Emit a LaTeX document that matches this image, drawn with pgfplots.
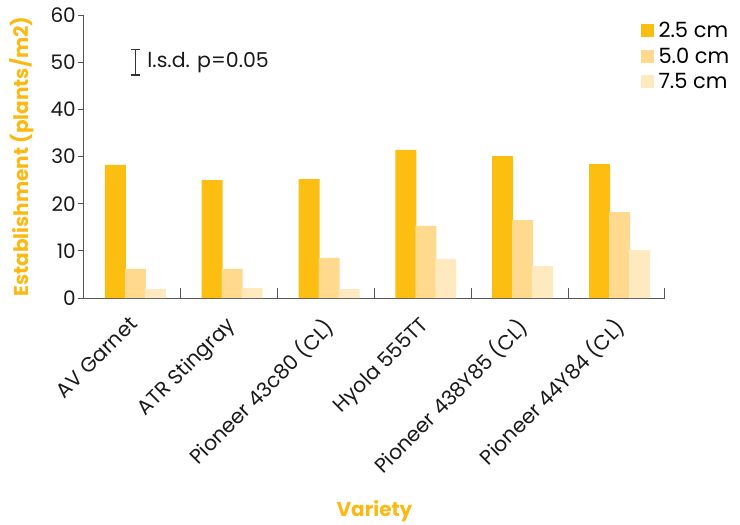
\documentclass[border=0pt]{standalone}
\usepackage{fontspec}
\setmainfont{Poppins}
\usepackage{pgfplots}
\pgfplotsset{compat=1.18}

\definecolor{sowA}{HTML}{FDBE12}
\definecolor{sowB}{HTML}{FED98E}
\definecolor{sowC}{HTML}{FFE9BF}
\definecolor{labelorange}{HTML}{FDB913}
\definecolor{axisgrey}{HTML}{555555}

\begin{document}
\begin{tikzpicture}[x=1pt,y=1pt]
\useasboundingbox (0,0) rectangle (740,-525);
\begin{axis}[
  at={(84pt,-298pt)}, anchor=south west,
  scale only axis, width=581pt, height=283pt,
  xmin=-0.5, xmax=5.5, ymin=0, ymax=60,
  axis lines=left,
  axis line style={-, draw=axisgrey, line width=1pt},
  ytick={0,10,...,60},
  ytick align=outside,
  major tick length=6pt,
  y tick style={draw=axisgrey, line width=1pt},
  yticklabel style={font=\fontsize{20}{20}\selectfont, text=black!90, inner sep=0pt, anchor=east, xshift=-2pt},
  xtick={0,...,5},
  xticklabels={AV Garnet, ATR Stingray, Pioneer 43c80 (CL), Hyola 555TT, Pioneer 438Y85 (CL), Pioneer 44Y84 (CL)},
  x tick style={draw=none},
  xticklabel style={font=\fontsize{20.5}{20.5}\selectfont, text=black!90, rotate=45, anchor=north east, inner sep=0pt, xshift=-13pt, yshift=-7pt},
  /pgf/number format/assume math mode=true,
  xlabel={Variety},
  ylabel={Establishment (plants/m2)},
  every axis x label/.style={at={(axis description cs:0.5,-0.753)}, anchor=center, font=\bfseries\fontsize{20}{20}\selectfont, text=labelorange},
  every axis y label/.style={at={(axis description cs:-0.107,0.5)}, rotate=90, anchor=center, font=\bfseries\fontsize{20}{20}\selectfont, text=labelorange},
  legend style={at={(axis description cs:0.9575,0.982)}, anchor=north west, draw=none, fill=none, inner sep=0pt,
    font=\fontsize{21}{21}\selectfont, row sep=4.5pt,
    nodes={inner xsep=4.5pt}},
  legend cell align=left,
  legend image code/.code={\fill[#1] (0pt,-6.5pt) rectangle (13.5pt,6.5pt);},
  clip=false,
]
% establishment for each sowing depth
\addplot[ybar, bar width=21pt, bar shift=-17pt, fill=sowA, draw=none]
  coordinates {(0,28.2) (1,25.0) (2,25.2) (3,31.4) (4,30.1) (5,28.4)};
\addplot[ybar, bar width=21pt, bar shift=3pt, fill=sowB, draw=none]
  coordinates {(0,6.2) (1,6.2) (2,8.5) (3,15.3) (4,16.5) (5,18.2)};
\addplot[ybar, bar width=21pt, bar shift=23pt, fill=sowC, draw=none]
  coordinates {(0,1.9) (1,2.1) (2,1.9) (3,8.3) (4,6.8) (5,10.2)};
\legend{2.5 cm, 5.0 cm, 7.5 cm}

% least significant difference bar
\addplot[forget plot, draw=none, mark=none,
  error bars/.cd, y dir=both, y explicit,
  error bar style={line width=1.2pt, black!80},
  error mark options={rotate=90, mark size=4.5pt, line width=1.2pt, black!80}]
  coordinates {(0.034,50) +- (0,2.7)};
\node[anchor=west, inner sep=0pt, font=\fontsize{20.5}{20.5}\selectfont, text=black!90]
  at (axis cs:0.034,50) [xshift=11.5pt] {l.s.d. p=0.05};

% group separators on the category axis
\pgfplotsinvokeforeach{0.5,1.5,2.5,3.5,4.5,5.5}{
  \draw[axisgrey, line width=1pt] (axis cs:#1,0) -- ([yshift=10pt]axis cs:#1,0);
}
\end{axis}
\end{tikzpicture}
\end{document}
